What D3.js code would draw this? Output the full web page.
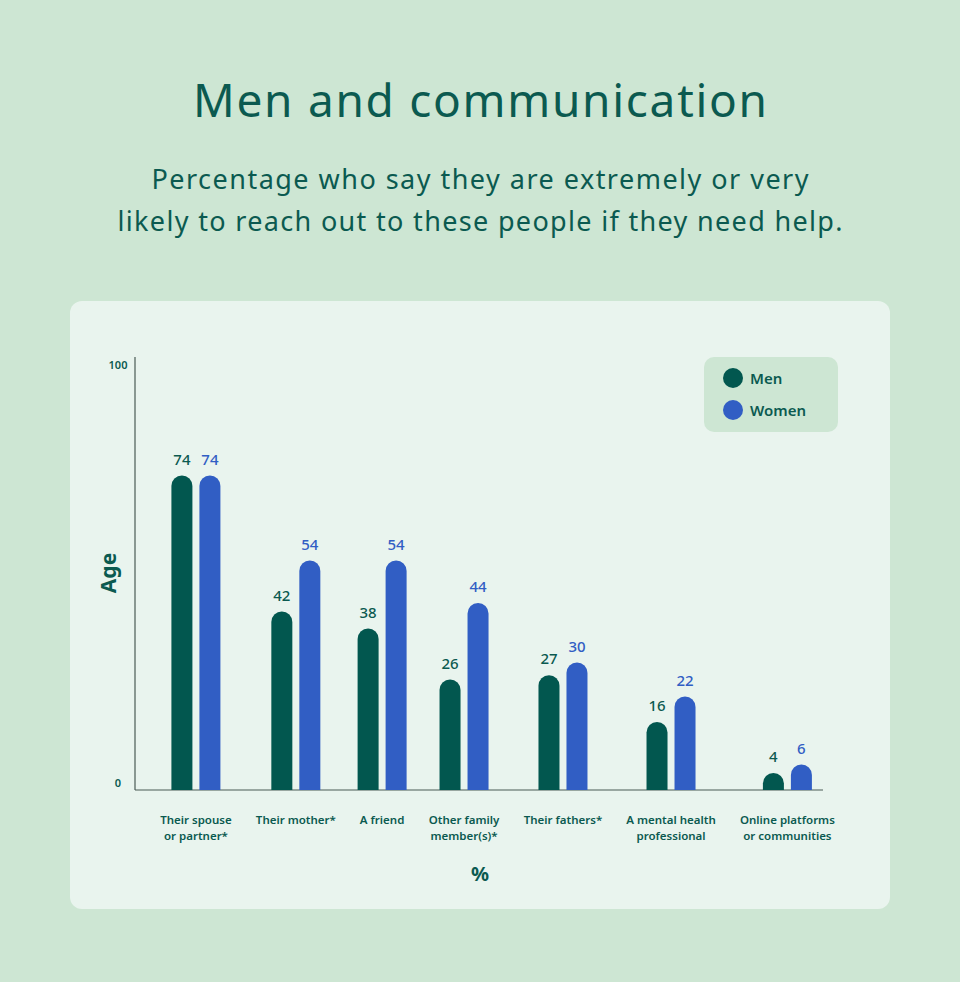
<!DOCTYPE html>
<html>
<head>
<meta charset="utf-8">
<script src="https://cdn.jsdelivr.net/npm/d3@7"></script>
<style>
  body { margin: 0; background: #cde6d3; }
  svg { display: block; font-family: "Noto Sans", sans-serif; }
</style>
</head>
<body>
<svg id="chart" width="960" height="982"></svg>
<script>
// chart data
const categories = [
  ["Their spouse", "or partner*"],
  ["Their mother*"],
  ["A friend"],
  ["Other family", "member(s)*"],
  ["Their fathers*"],
  ["A mental health", "professional"],
  ["Online platforms", "or communities"]
];
const men = [74, 42, 38, 26, 27, 16, 4];
const women = [74, 54, 54, 44, 30, 22, 6];
const yTicks = [0, 100];
const seriesNames = ["Men", "Women"];

const darkGreen = "#02574f";
const blue = "#315ec4";
const textGreen = "#0b5a50";

let svg = d3.select("#chart");

// page background + card
svg.append("rect").attr("width", 960).attr("height", 982).attr("fill", "#cde6d3");
svg.append("rect")
  .attr("x", 70).attr("y", 301)
  .attr("width", 820).attr("height", 608)
  .attr("rx", 12)
  .attr("fill", "#e9f4ee");

// title + subtitle
svg.append("text")
  .attr("x", 480).attr("y", 117)
  .attr("text-anchor", "middle")
  .attr("font-size", 46)
  .attr("font-weight", 400)
  .attr("textLength", 574)
  .attr("lengthAdjust", "spacing")
  .attr("fill", textGreen)
  .text("Men and communication");

let subtitle = [
  ["Percentage who say they are extremely or very", 657],
  ["likely to reach out to these people if they need help.", 725]
];
svg.selectAll("text.sub")
  .data(subtitle)
  .enter()
  .append("text")
  .attr("class", "sub")
  .attr("x", 480)
  .attr("y", (d, i) => 189 + i * 42)
  .attr("text-anchor", "middle")
  .attr("font-size", 27)
  .attr("textLength", d => d[1])
  .attr("lengthAdjust", "spacing")
  .attr("fill", textGreen)
  .text(d => d[0]);

const plotLeft = 135, plotRight = 823, plotTop = 357, baseline = 790;

let yScale = d3.scaleLinear()
  .domain([0, 100])
  .range([baseline, 365]);

// x labels first, so groups can be laid out by label widths
let labelStart = 160, labelEnd = 835;
let xLabels = svg.append("g");
let labelNodes = xLabels.selectAll("text.xlab")
  .data(categories)
  .enter()
  .append("text")
  .attr("class", "xlab")
  .attr("text-anchor", "middle")
  .attr("font-size", 11.5)
  .attr("font-weight", 600)
  .attr("fill", textGreen);

labelNodes.selectAll("tspan")
  .data(d => d)
  .enter()
  .append("tspan")
  .attr("x", 0)
  .attr("dy", (d, i) => i === 0 ? 0 : 15.5)
  .text(d => d);

let widths = [];
labelNodes.each(function () { widths.push(this.getBBox().width); });
let gap = (labelEnd - labelStart - d3.sum(widths)) / (widths.length - 1);
let centers = [];
let acc = labelStart;
widths.forEach(w => { centers.push(acc + w / 2); acc += w + gap; });

let xScale = d3.scaleOrdinal()
  .domain(d3.range(categories.length))
  .range(centers);

labelNodes.attr("transform", (d, i) => "translate(" + xScale(i) + ",824)");

// axes lines
svg.append("line")
  .attr("x1", plotLeft).attr("x2", plotLeft)
  .attr("y1", plotTop).attr("y2", baseline)
  .attr("stroke", "#4a5a55").attr("stroke-width", 1.2);
svg.append("line")
  .attr("x1", plotLeft).attr("x2", plotRight)
  .attr("y1", baseline).attr("y2", baseline)
  .attr("stroke", "#4a5a55").attr("stroke-width", 1.2);

svg.selectAll("text.ytick")
  .data(yTicks)
  .enter()
  .append("text")
  .attr("class", "ytick")
  .attr("x", 118)
  .attr("y", d => yScale(d) + (d === 0 ? -3 : 4))
  .attr("text-anchor", "middle")
  .attr("font-size", 11)
  .attr("font-weight", 600)
  .attr("fill", textGreen)
  .text(d => d);

// bars: rounded top pill shapes
const barW = 21, barOff = 14;
let barPath = (cx, v) => {
  let top = yScale(v), r = barW / 2;
  let x0 = cx - r, x1 = cx + r;
  let p = d3.path();
  p.moveTo(x0, baseline);
  p.lineTo(x0, Math.min(top + r, baseline));
  p.arc(cx, Math.min(top + r, baseline), r, Math.PI, 0);
  p.lineTo(x1, baseline);
  p.closePath();
  return p.toString();
};

let series = [
  { name: "men", values: men, off: -barOff, color: darkGreen, label: textGreen },
  { name: "women", values: women, off: barOff, color: blue, label: blue }
];

series.forEach(s => {
  svg.selectAll("path.bar-" + s.name)
    .data(s.values)
    .enter()
    .append("path")
    .attr("class", "bar-" + s.name)
    .attr("d", (d, i) => barPath(xScale(i) + s.off, d))
    .attr("fill", s.color);

  svg.selectAll("text.val-" + s.name)
    .data(s.values)
    .enter()
    .append("text")
    .attr("class", "val-" + s.name)
    .attr("x", (d, i) => xScale(i) + s.off)
    .attr("y", d => yScale(d) - 11)
    .attr("text-anchor", "middle")
    .attr("font-size", 15)
    .attr("font-weight", 500)
    .attr("fill", s.label)
    .text(d => d);
});

// axis titles
svg.append("text")
  .attr("transform", "translate(116,573) rotate(-90)")
  .attr("text-anchor", "middle")
  .attr("font-size", 21)
  .attr("font-weight", 700)
  .attr("fill", textGreen)
  .text("Age");

svg.append("text")
  .attr("x", 480).attr("y", 881)
  .attr("text-anchor", "middle")
  .attr("font-size", 20)
  .attr("font-weight", 700)
  .attr("fill", textGreen)
  .text("%");

// legend
let legend = svg.append("g").attr("transform", "translate(704,357)");
legend.append("rect")
  .attr("width", 134).attr("height", 75)
  .attr("rx", 10)
  .attr("fill", "#cde6d3");
let items = legend.selectAll("g.item")
  .data(seriesNames)
  .enter()
  .append("g")
  .attr("class", "item")
  .attr("transform", (d, i) => "translate(29," + (21 + i * 32) + ")");
items.append("circle")
  .attr("r", 10)
  .attr("fill", (d, i) => i === 0 ? darkGreen : blue);
items.append("text")
  .attr("x", 17).attr("y", 5.5)
  .attr("font-size", 15)
  .attr("font-weight", 600)
  .attr("fill", textGreen)
  .text(d => d);
</script>
</body>
</html>
